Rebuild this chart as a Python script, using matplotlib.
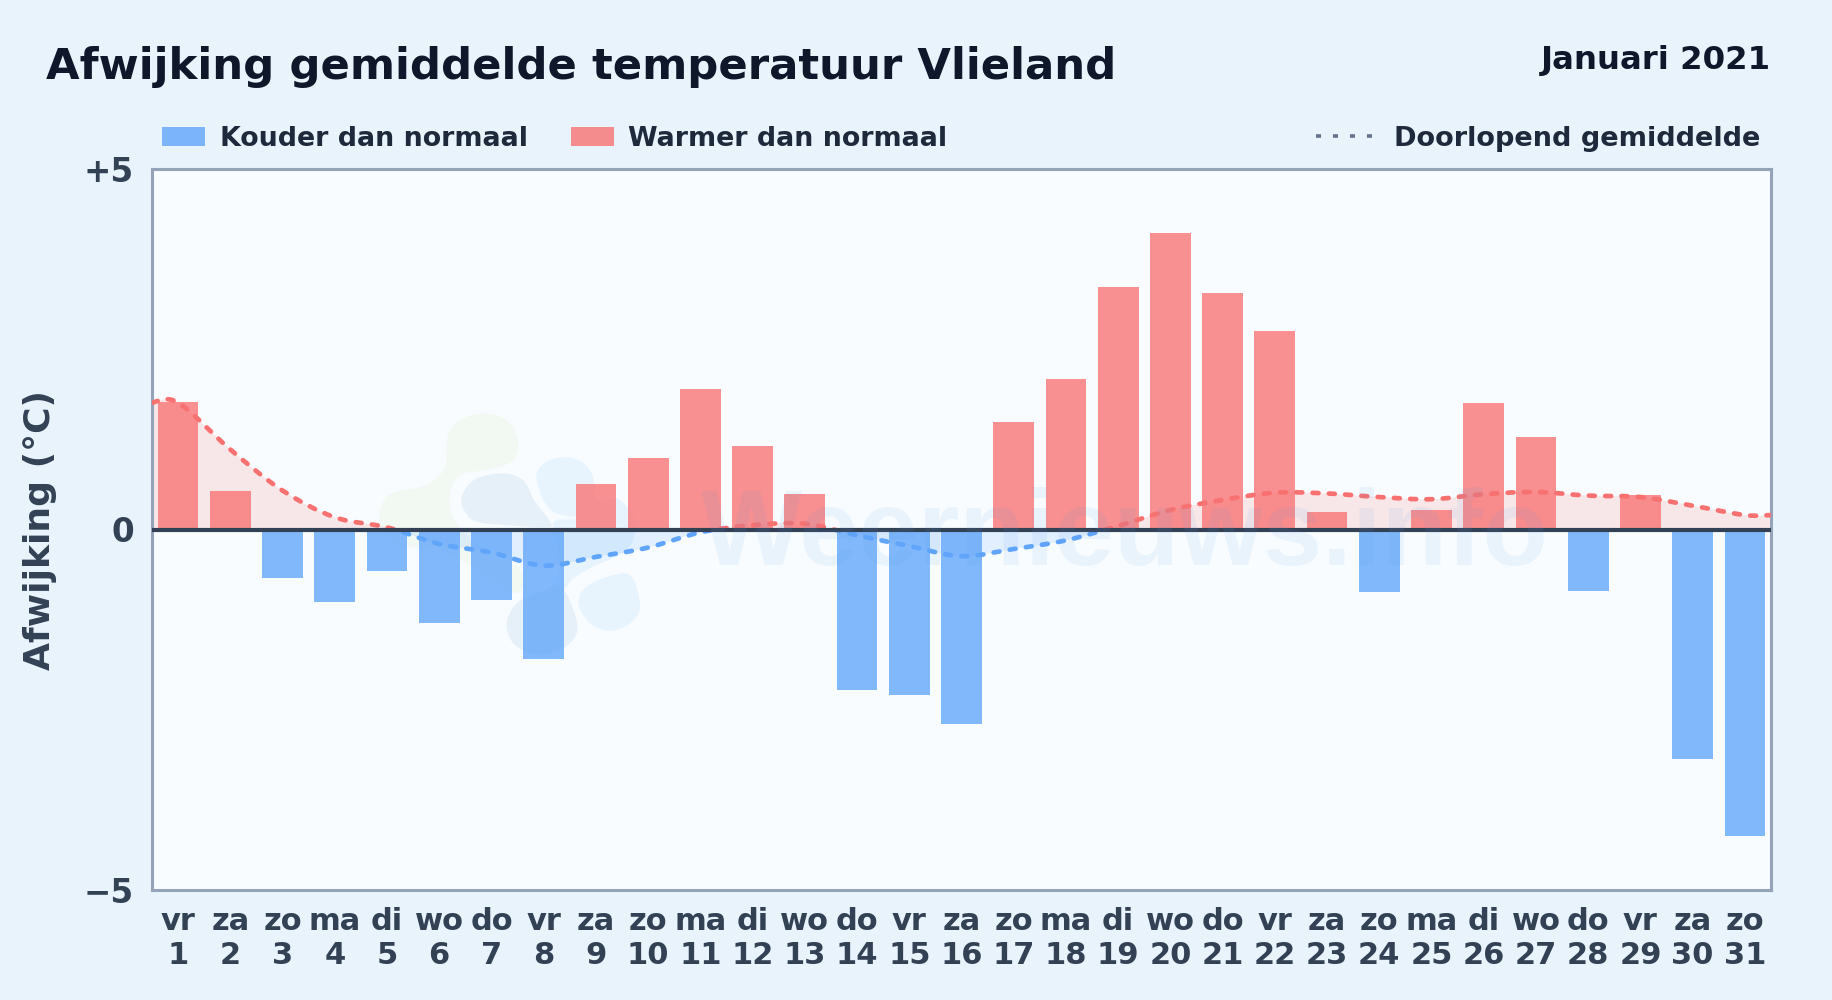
import matplotlib
matplotlib.use("Agg")
import matplotlib.pyplot as plt
import numpy as np
from matplotlib.lines import Line2D
from matplotlib.patches import Patch, PathPatch, Rectangle
from matplotlib.path import Path

days = ["vr", "za", "zo", "ma", "di", "wo", "do", "vr", "za", "zo", "ma", "di", "wo", "do", "vr", "za",
        "zo", "ma", "di", "wo", "do", "vr", "za", "zo", "ma", "di", "wo", "do", "vr", "za", "zo"]
afwijking = [1.77, 0.53, -0.67, -1.01, -0.57, -1.29, -0.98, -1.79, 0.63, 0.99, 1.95, 1.16, 0.49, -2.23, -2.29, -2.70,
             1.49, 2.09, 3.37, 4.11, 3.28, 2.76, 0.24, -0.87, 0.27, 1.76, 1.28, -0.85, 0.48, -3.18, -4.25]
gemiddelde = [1.76, 1.11, 0.54, 0.17, 0.03, -0.20, -0.32, -0.50, -0.38, -0.25, -0.04, 0.06, 0.08, -0.08, -0.23, -0.37,
              -0.27, -0.15, 0.05, 0.27, 0.41, 0.51, 0.50, 0.45, 0.42, 0.49, 0.52, 0.47, 0.45, 0.33, 0.20]
y_ticks = [-5, 0, 5]
y_labels = ["\u22125", "0", "+5"]

BLUE = "#60a5fa"
RED = "#f87171"
W, H = 1832, 1000


def smooth_path(xs, ys, closed=False):
    # catmull-rom as bezier segments, so the curve still goes through the read values
    pts = np.column_stack([xs, ys])
    if closed:
        p = np.vstack([pts[-1], pts, pts[0], pts[1]])
    else:
        p = np.vstack([pts[0], pts, pts[-1]])
    verts = [p[1]]
    codes = [Path.MOVETO]
    for i in range(1, len(p) - 2):
        verts += [p[i] + (p[i + 1] - p[i - 1]) / 6, p[i + 1] - (p[i + 2] - p[i]) / 6, p[i + 1]]
        codes += [Path.CURVE4] * 3
    return Path(verts, codes)


plt.rcParams["font.family"] = "DejaVu Sans"
plt.rcParams["font.weight"] = "bold"

fig = plt.figure(figsize=(W / 100, H / 100), dpi=100, facecolor="#e8f3fc")
ax = fig.add_axes([152 / W, 1 - 890 / H, (1771 - 152) / W, (890 - 169) / H])
ax.set_facecolor("#f8fcff")

# logo behind the bars, outlines in a 3x grid starting at pixel (360, 390)
blobs = [
    ("#f2f9f3", [(265, 130), (310, 85), (380, 70), (445, 95), (475, 160), (455, 215), (380, 240), (300, 255), (270, 310),
                 (275, 370), (320, 440), (400, 500), (470, 530), (490, 570), (480, 605), (440, 600), (340, 530),
                 (230, 480), (130, 465), (70, 420), (60, 360), (95, 310), (200, 285), (255, 230)]),
    ("#e6f0f9", [(305, 320), (345, 268), (430, 250), (490, 272), (525, 335), (570, 395), (560, 412), (440, 405),
                 (350, 395), (315, 365)]),
    ("#e7f4fe", [(530, 250), (570, 210), (640, 205), (690, 240), (705, 310), (690, 360), (640, 380), (580, 365),
                 (545, 320)]),
    ("#e7f4fe", [(580, 400), (650, 385), (710, 335), (780, 330), (825, 400), (800, 480), (700, 530), (640, 565),
                 (610, 600), (580, 590), (600, 520)]),
    ("#e7f4fe", [(655, 640), (680, 590), (760, 555), (815, 560), (840, 650), (810, 700), (750, 722), (690, 700)]),
    ("#e6f0f9", [(440, 700), (470, 640), (530, 610), (600, 590), (640, 660), (650, 730), (600, 780), (520, 790),
                 (460, 760)]),
]
for color, shape in blobs:
    xs = [(360 + p[0] / 3) / W for p in shape]
    ys = [1 - (390 + p[1] / 3) / H for p in shape]
    ax.add_patch(PathPatch(smooth_path(xs, ys, closed=True), facecolor=color, edgecolor="none",
                           transform=fig.transFigure, zorder=0))
fig.text(1125 / W, 1 - 537 / H, "Weernieuws.info", ha="center", va="center", fontsize=77, color="#5c9ee8",
         alpha=0.09, family="Liberation Sans", zorder=5)

x = np.arange(len(afwijking))
colors = [RED if v >= 0 else BLUE for v in afwijking]
ax.bar(x, afwijking, width=0.78, color=colors, alpha=0.78, linewidth=0, zorder=2)

# running mean, one path, clipped in two halves for the colour change
line_x = np.concatenate([[-0.5], x, [30.5]])
line_y = np.array([gemiddelde[0]] + gemiddelde + [gemiddelde[-1]])
curve = smooth_path(line_x, line_y)
fill_verts = np.vstack([curve.vertices, [30.5, 0], [-0.5, 0], [-0.5, 0]])
fill_codes = list(curve.codes) + [Path.LINETO, Path.LINETO, Path.CLOSEPOLY]
fill_path = Path(fill_verts, fill_codes)
halves = [(RED, Rectangle((-0.5, 0), 31, 5, transform=ax.transData)),
          (BLUE, Rectangle((-0.5, -5), 31, 5, transform=ax.transData))]
for color, clip in halves:
    area = PathPatch(fill_path, facecolor=color, edgecolor="none", alpha=0.15, zorder=1)
    ax.add_patch(area)
    area.set_clip_path(clip)
    lijn = PathPatch(curve, facecolor="none", edgecolor=color, linewidth=3.4, linestyle=(0, (1.25, 2.2)),
                     capstyle="round", zorder=3)
    ax.add_patch(lijn)
    lijn.set_clip_path(clip)

ax.axhline(0, color="#334155", linewidth=3, zorder=4)

ax.set_xlim(-0.5, 30.5)
ax.set_ylim(-5, 5)
ax.set_xticks(x)
ax.set_xticklabels([f"{d}\n{i + 1}" for i, d in enumerate(days)], fontsize=22, color="#334155", linespacing=1.22)
ax.set_yticks(y_ticks)
ax.set_yticklabels(y_labels, fontsize=23.5, color="#334155")
ax.tick_params(length=0, axis="x", pad=12)
ax.tick_params(length=0, axis="y", pad=13)
for spine in ax.spines.values():
    spine.set_color("#94a3b8")
    spine.set_linewidth(2.2)

fig.text(40 / W, 1 - 530 / H, "Afwijking (\u00b0C)", rotation=90, ha="center", va="center", fontsize=26, color="#334155")
fig.text(46 / W, 1 - 67 / H, "Afwijking gemiddelde temperatuur Vlieland", ha="left", va="center", fontsize=31.2, color="#0f172a")
fig.text(1771 / W, 1 - 61 / H, "Januari 2021", ha="right", va="center", fontsize=23.3, color="#0f172a")

handles = [Patch(facecolor=BLUE, alpha=0.8, label="Kouder dan normaal"),
           Patch(facecolor=RED, alpha=0.8, label="Warmer dan normaal")]
leg1 = ax.legend(handles=handles, loc="lower left", bbox_to_anchor=(-0.0088, 0.99), ncol=2, frameon=False, fontsize=19.4,
                 labelcolor="#1e293b", handlelength=1.6, handleheight=0.7, handletextpad=0.55, columnspacing=1.58)
ax.add_artist(leg1)
extra = Line2D([], [], color="#64748b", linewidth=2.6, linestyle=(0, (1.4, 3.3)), label="Doorlopend gemiddelde")
ax.legend(handles=[extra], loc="lower right", bbox_to_anchor=(1.0085, 0.99), frameon=False, fontsize=19.5,
          labelcolor="#1e293b", handlelength=2.07, handletextpad=0.8)

fig.savefig("out.png", dpi=100, facecolor=fig.get_facecolor())
